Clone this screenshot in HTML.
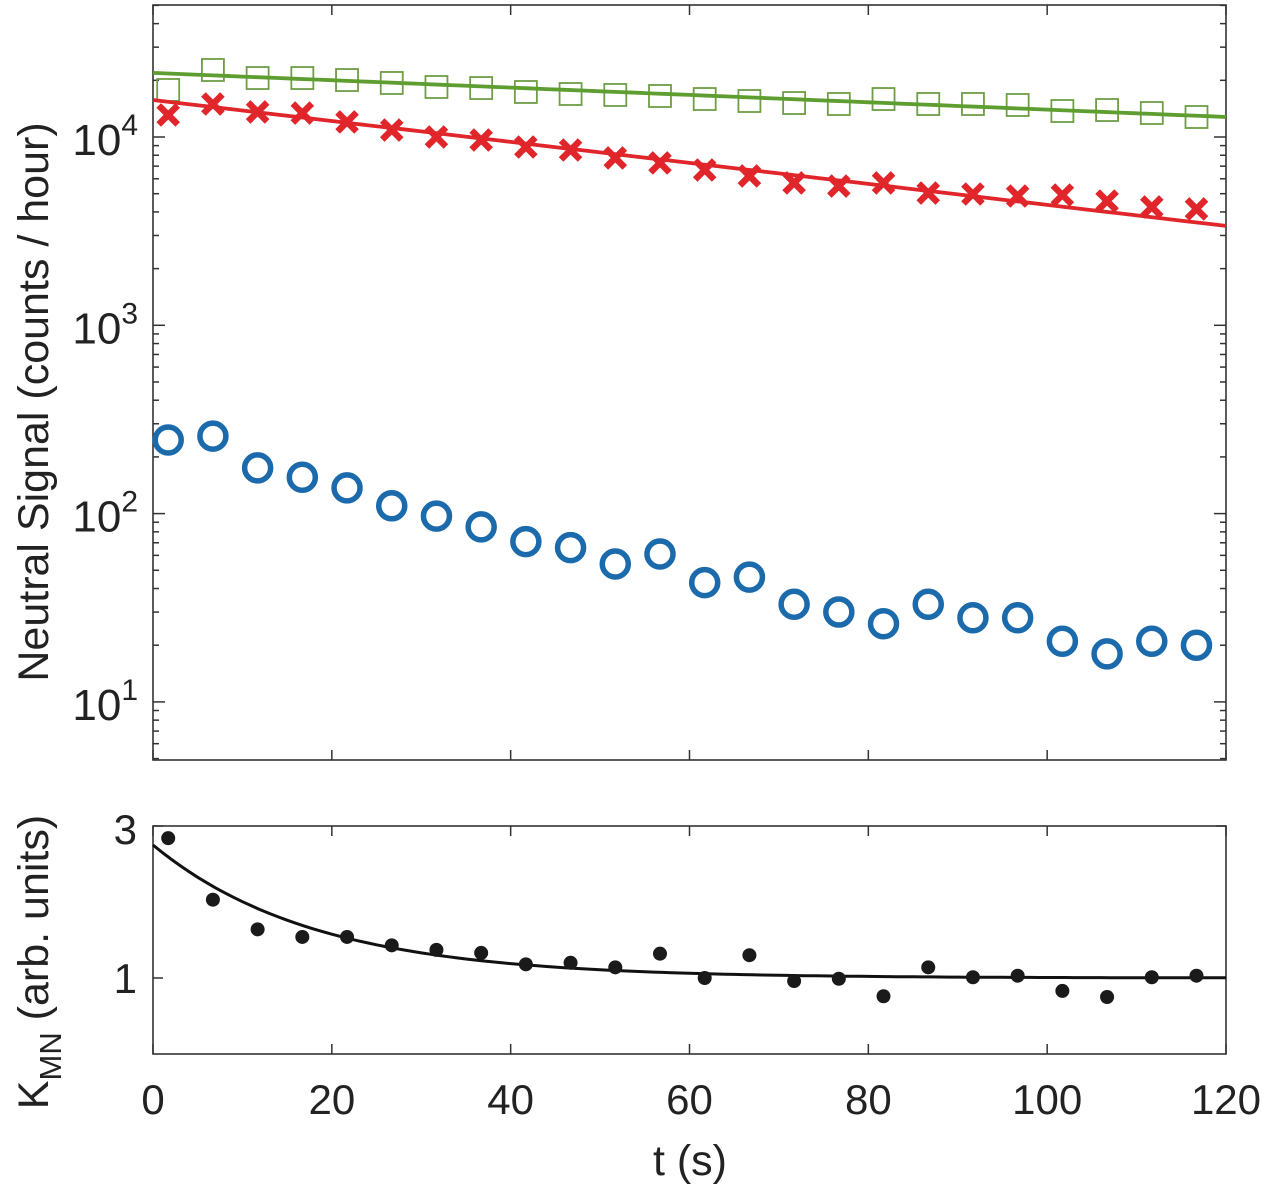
<!DOCTYPE html>
<html><head><meta charset="utf-8">
<style>
html,body{margin:0;padding:0;background:#fff;}
svg{display:block;font-family:"Liberation Sans",Arial,sans-serif;}
</style></head>
<body>
<svg id="chart" width="1268" height="1191" viewBox="0 0 1268 1191" xmlns="http://www.w3.org/2000/svg">
<g id="topPanel"></g>
<g id="botPanel"></g>
<text transform="translate(48,402) rotate(-90)" text-anchor="middle" font-size="43" fill="#222">Neutral Signal (counts / hour)</text>
<text transform="translate(48,962) rotate(-90)" text-anchor="middle" font-size="43" fill="#222">K<tspan font-size="31" dy="13">MN</tspan><tspan dy="-13"> (arb. units)</tspan></text>
<text x="690" y="1175" text-anchor="middle" font-size="43" fill="#222">t (s)</text>
</svg>
<script>
const times = [1.7,6.7,11.7,16.7,21.7,26.7,31.7,36.7,41.7,46.7,51.7,56.7,61.7,66.7,71.7,76.7,81.7,86.7,91.7,96.7,101.7,106.7,111.7,116.7];
const blueVals = [246,258,175,156,137,110,97,85,71,66,54,61,43,46,33,30,26,33,28,28,21,18,21,20];
const redVals = [13100,14970,13580,13400,12020,10890,10000,9640,8850,8530,7740,7280,6680,6210,5700,5490,5700,5040,4980,4860,4920,4570,4250,4150];
const greenVals = [17770,22690,20570,20570,20070,19360,18430,18200,17340,16920,16720,16510,15910,15530,15150,14970,15910,14970,14970,14790,13740,13910,13410,12770];
const redFit = {n0:15730, tau:77.9};
const greenFit = {n0:21900, tau:222.6};
const kVals = [2.84,2.03,1.64,1.54,1.54,1.43,1.37,1.33,1.18,1.20,1.14,1.32,1.0,1.30,0.96,0.99,0.76,1.14,1.01,1.03,0.83,0.75,1.01,1.03];
const kFit = {a:1.75, tau:18, c:1};
const xTicks = [0,20,40,60,80,100,120];
const logTicks = [1,2,3,4];
const kTicks = [1,3];

const NS='http://www.w3.org/2000/svg';
const X0=153, X1=1226;
const sx = t => X0 + (t/120)*(X1-X0);
const TY0=5, TY1=760;
const decade=188.3;
const sy = v => 137 - decade*(Math.log10(v)-4);
const BY0=826, BY1=1054;
const by = v => BY1 - v*(BY1-BY0)/3;

function mk(parent, tag, attrs){const e=document.createElementNS(NS,tag);for(const k in attrs)e.setAttribute(k,attrs[k]);parent.appendChild(e);return e;}
const topG=document.getElementById('topPanel'), botG=document.getElementById('botPanel');

let f=mk(topG,'rect',{x:X0,y:TY0,width:X1-X0,height:TY1-TY0,fill:'none',stroke:'#333','stroke-width':1.6});


for(let d=0; d<=4; d++){
  for(let m=1;m<=9;m++){
    const v=m*Math.pow(10,d); const y=sy(v);
    if(y<TY0||y>TY1) continue;
    const len = m===1?12:6;
    const t1=mk(topG,'line',{x1:X0,x2:X0+len,y1:y,y2:y,stroke:'#333','stroke-width':1.5});
    
    
    const t2=mk(topG,'line',{x1:X1,x2:X1-len,y1:y,y2:y,stroke:'#333','stroke-width':1.5});
    
    
  }
}
logTicks.forEach(p=>{
  const y=sy(Math.pow(10,p));
  const tx=mk(topG,'text',{x:X0-15,y:y+18,'text-anchor':'end','font-size':44,fill:'#222'});
  
  
  tx.appendChild(document.createTextNode('10'));
  const sp=mk(tx,'tspan',{'font-size':30,dy:-20});
  sp.textContent=String(p);
});
xTicks.forEach(t=>{
  const x=sx(t);
  [[TY0,TY0+10],[TY1,TY1-10],[BY0,BY0+10],[BY1,BY1-10]].forEach(([a,b])=>{
    const l=mk(botG,'line',{x1:x,x2:x,y1:a,y2:b,stroke:'#333','stroke-width':1.5});
    
    
  });
  const tx=mk(botG,'text',{x:x,y:1114,'text-anchor':'middle','font-size':42,fill:'#222'});
  
  
  tx.textContent=String(t);
});
function fitPath(fit){let d='';for(let i=0;i<=60;i++){const t=i*2;const v=fit.n0*Math.exp(-t/fit.tau);d+=(i?'L':'M')+sx(t).toFixed(1)+','+sy(v).toFixed(1);}return d;}
greenVals.forEach((v,i)=>{
  const s=mk(topG,'rect',{x:sx(times[i])-11,y:sy(v)-11,width:22,height:22,fill:'none',stroke:'#6e9e45','stroke-width':1.8});
  
  
});
let gl=mk(topG,'path',{d:fitPath(greenFit),fill:'none',stroke:'#5e9e30','stroke-width':3.8});


redVals.forEach((v,i)=>{
  const x=sx(times[i]), y=sy(v), r=9.5;
  const p=mk(topG,'path',{d:`M${x-r},${y-r}L${x+r},${y+r}M${x-r},${y+r}L${x+r},${y-r}`,stroke:'#e0262a','stroke-width':6.5,fill:'none'});
  
  
});
let rl=mk(topG,'path',{d:fitPath(redFit),fill:'none',stroke:'#e0262a','stroke-width':3.8});


blueVals.forEach((v,i)=>{
  const c=mk(topG,'circle',{cx:sx(times[i]),cy:sy(v),r:13,fill:'none',stroke:'#1b6aab','stroke-width':5.5});
  
  
});

let bf=mk(botG,'rect',{x:X0,y:BY0,width:X1-X0,height:BY1-BY0,fill:'none',stroke:'#333','stroke-width':1.6});


kTicks.forEach(v=>{
  const y=by(v);
  const l1=mk(botG,'line',{x1:X0,x2:X0+10,y1:y,y2:y,stroke:'#333','stroke-width':1.5});
  
  
  const l2=mk(botG,'line',{x1:X1,x2:X1-10,y1:y,y2:y,stroke:'#333','stroke-width':1.5});
  
  
  const tx=mk(botG,'text',{x:X0-16,y:y+(v===3?18:15),'text-anchor':'end','font-size':42,fill:'#222'});
  
  
  tx.textContent=String(v);
});
let kd='';for(let i=0;i<=120;i++){const t=i;const v=kFit.c+kFit.a*Math.exp(-t/kFit.tau);kd+=(i?'L':'M')+sx(t).toFixed(1)+','+by(v).toFixed(1);}
let kl=mk(botG,'path',{d:kd,fill:'none',stroke:'#111','stroke-width':3});


kVals.forEach((v,i)=>{
  const c=mk(botG,'circle',{cx:sx(times[i]),cy:by(v),r:7,fill:'#1a1a1a'});
  
  
});
</script>
</body></html>
